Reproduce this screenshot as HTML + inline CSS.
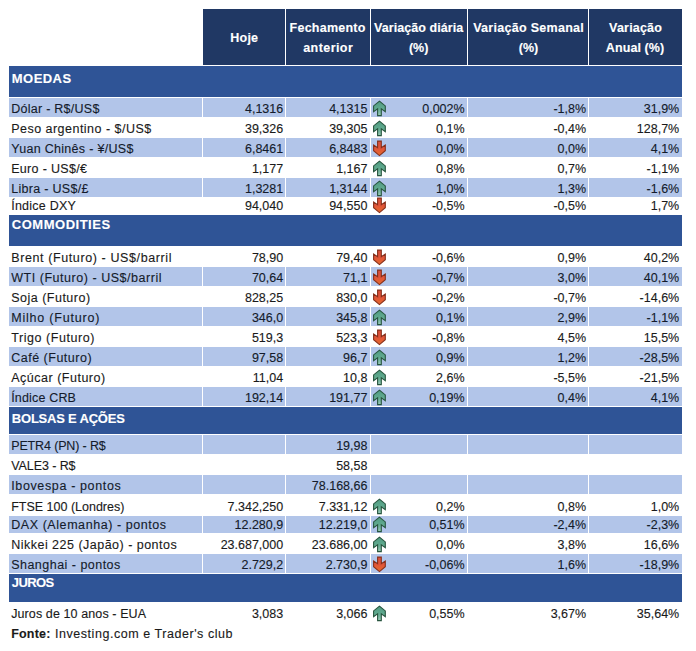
<!DOCTYPE html>
<html><head><meta charset="utf-8"><style>
html,body{margin:0;padding:0;background:#fff;}
body{width:696px;height:651px;position:relative;overflow:hidden;font-family:"Liberation Sans", sans-serif;}
.b{position:absolute;}
.t{position:absolute;white-space:pre;line-height:1;transform-origin:0 50%;-webkit-text-stroke:0.12px currentColor;}
.t.r{text-align:right;}
.t.c{width:200px;text-align:center;}
.ar{position:absolute;}
</style></head><body>
<svg width="0" height="0" style="position:absolute"><defs><linearGradient id="gu" x1="0" y1="0" x2="0" y2="1"><stop offset="0" stop-color="#4f9a80"/><stop offset="0.55" stop-color="#62ab90"/><stop offset="1" stop-color="#9ccdb9"/></linearGradient><linearGradient id="gd" x1="0" y1="0" x2="0" y2="1"><stop offset="0" stop-color="#e66a2a"/><stop offset="0.5" stop-color="#e0553a"/><stop offset="1" stop-color="#d9503c"/></linearGradient></defs></svg>
<div class="b" style="left:203px;top:9px;width:82px;height:56px;background:#203864"></div>
<div class="b" style="left:286px;top:9px;width:84px;height:56px;background:#203864"></div>
<div class="b" style="left:371px;top:9px;width:96px;height:56px;background:#203864"></div>
<div class="b" style="left:468px;top:9px;width:120px;height:56px;background:#203864"></div>
<div class="b" style="left:589px;top:9px;width:93px;height:56px;background:#203864"></div>
<div class="t c" style="left:144.20px;top:31.72px;font-size:12.5px;color:#fff;font-weight:bold"><span style="display:inline-block;letter-spacing:0.227px;margin-right:-0.227px;">Hoje</span></div>
<div class="t c" style="left:227.50px;top:21.92px;font-size:12.5px;color:#fff;font-weight:bold"><span style="display:inline-block;letter-spacing:0.236px;margin-right:-0.236px;">Fechamento</span></div>
<div class="t c" style="left:228.00px;top:41.52px;font-size:12.5px;color:#fff;font-weight:bold"><span style="display:inline-block;letter-spacing:0.432px;margin-right:-0.432px;">anterior</span></div>
<div class="t c" style="left:318.70px;top:21.92px;font-size:12.5px;color:#fff;font-weight:bold"><span style="display:inline-block;letter-spacing:0.069px;margin-right:-0.069px;">Variação diária</span></div>
<div class="t c" style="left:318.70px;top:41.52px;font-size:12.5px;color:#fff;font-weight:bold"><span style="display:inline-block;">(%)</span></div>
<div class="t c" style="left:428.50px;top:21.92px;font-size:12.5px;color:#fff;font-weight:bold"><span style="display:inline-block;letter-spacing:0.292px;margin-right:-0.292px;">Variação Semanal</span></div>
<div class="t c" style="left:428.50px;top:41.52px;font-size:12.5px;color:#fff;font-weight:bold"><span style="display:inline-block;">(%)</span></div>
<div class="t c" style="left:535.50px;top:21.92px;font-size:12.5px;color:#fff;font-weight:bold"><span style="display:inline-block;letter-spacing:0.195px;margin-right:-0.195px;">Variação</span></div>
<div class="t c" style="left:535.00px;top:41.52px;font-size:12.5px;color:#fff;font-weight:bold"><span style="display:inline-block;letter-spacing:0.095px;margin-right:-0.095px;">Anual (%)</span></div>
<div class="b" style="left:9px;top:66px;width:673px;height:31px;background:#2F5496"></div>
<div class="t" style="left:11.80px;top:71.70px;font-size:13px;color:#fff;font-weight:bold;letter-spacing:0.456px;">MOEDAS</div>
<div class="b" style="left:9px;top:215px;width:673px;height:31px;background:#2F5496"></div>
<div class="t" style="left:11.80px;top:217.80px;font-size:13px;color:#fff;font-weight:bold;letter-spacing:0.512px;">COMMODITIES</div>
<div class="b" style="left:9px;top:407px;width:673px;height:27px;background:#2F5496"></div>
<div class="t" style="left:11.80px;top:411.50px;font-size:13px;color:#fff;font-weight:bold;letter-spacing:-0.209px;">BOLSAS E AÇÕES</div>
<div class="b" style="left:9px;top:574px;width:673px;height:28px;background:#2F5496"></div>
<div class="t" style="left:11.80px;top:575.50px;font-size:13px;color:#fff;font-weight:bold;letter-spacing:-0.619px;">JUROS</div>
<div class="b" style="left:9px;top:98px;width:193px;height:19px;background:#B2C5E9"></div>
<div class="b" style="left:203px;top:98px;width:82px;height:19px;background:#B2C5E9"></div>
<div class="b" style="left:286px;top:98px;width:84px;height:19px;background:#B2C5E9"></div>
<div class="b" style="left:371px;top:98px;width:96px;height:19px;background:#B2C5E9"></div>
<div class="b" style="left:468px;top:98px;width:120px;height:19px;background:#B2C5E9"></div>
<div class="b" style="left:589px;top:98px;width:93px;height:19px;background:#B2C5E9"></div>
<div class="t" style="left:11.20px;top:103.12px;font-size:12.5px;color:#141b2b;letter-spacing:0.268px;">Dólar - R$/US$</div>
<div class="t r" style="right:412.80px;top:103.12px;font-size:12.5px;color:#141b2b">4,1316</div>
<div class="t r" style="right:328.60px;top:103.12px;font-size:12.5px;color:#141b2b">4,1315</div>
<div class="t r" style="right:231.40px;top:103.12px;font-size:12.5px;color:#141b2b">0,002%</div>
<div class="t r" style="right:109.90px;top:103.12px;font-size:12.5px;color:#141b2b">-1,8%</div>
<div class="t r" style="right:16.80px;top:103.12px;font-size:12.5px;color:#141b2b">31,9%</div>
<svg class="ar" style="left:370px;top:100.00px" width="19" height="17" viewBox="0 0 19 17"><path d="M9.45 1.1 L15.3 5.9 L15.3 11.7 L11.3 8.9 L11.3 15.6 L7.6 15.6 L7.6 8.9 L3.6 11.7 L3.6 5.9 Z" fill="url(#gu)" stroke="#28553f" stroke-width="1.1"/></svg>
<div class="t" style="left:11.20px;top:123.12px;font-size:12.5px;color:#1a1a1a;letter-spacing:0.479px;">Peso argentino - $/US$</div>
<div class="t r" style="right:412.80px;top:123.12px;font-size:12.5px;color:#1a1a1a">39,326</div>
<div class="t r" style="right:328.60px;top:123.12px;font-size:12.5px;color:#1a1a1a">39,305</div>
<div class="t r" style="right:231.40px;top:123.12px;font-size:12.5px;color:#1a1a1a">0,1%</div>
<div class="t r" style="right:109.90px;top:123.12px;font-size:12.5px;color:#1a1a1a">-0,4%</div>
<div class="t r" style="right:16.80px;top:123.12px;font-size:12.5px;color:#1a1a1a">128,7%</div>
<svg class="ar" style="left:370px;top:120.00px" width="19" height="17" viewBox="0 0 19 17"><path d="M9.45 1.1 L15.3 5.9 L15.3 11.7 L11.3 8.9 L11.3 15.6 L7.6 15.6 L7.6 8.9 L3.6 11.7 L3.6 5.9 Z" fill="url(#gu)" stroke="#28553f" stroke-width="1.1"/></svg>
<div class="b" style="left:9px;top:138px;width:193px;height:19px;background:#B2C5E9"></div>
<div class="b" style="left:203px;top:138px;width:82px;height:19px;background:#B2C5E9"></div>
<div class="b" style="left:286px;top:138px;width:84px;height:19px;background:#B2C5E9"></div>
<div class="b" style="left:371px;top:138px;width:96px;height:19px;background:#B2C5E9"></div>
<div class="b" style="left:468px;top:138px;width:120px;height:19px;background:#B2C5E9"></div>
<div class="b" style="left:589px;top:138px;width:93px;height:19px;background:#B2C5E9"></div>
<div class="t" style="left:11.20px;top:143.12px;font-size:12.5px;color:#141b2b;letter-spacing:0.303px;">Yuan Chinês - ¥/US$</div>
<div class="t r" style="right:412.80px;top:143.12px;font-size:12.5px;color:#141b2b">6,8461</div>
<div class="t r" style="right:328.60px;top:143.12px;font-size:12.5px;color:#141b2b">6,8483</div>
<div class="t r" style="right:231.40px;top:143.12px;font-size:12.5px;color:#141b2b">0,0%</div>
<div class="t r" style="right:109.90px;top:143.12px;font-size:12.5px;color:#141b2b">0,0%</div>
<div class="t r" style="right:16.80px;top:143.12px;font-size:12.5px;color:#141b2b">4,1%</div>
<svg class="ar" style="left:370px;top:140.00px" width="19" height="17" viewBox="0 0 19 17"><g transform="translate(0,16.7) scale(1,-1)"><path d="M9.45 1.1 L15.3 5.9 L15.3 11.7 L11.3 8.9 L11.3 15.6 L7.6 15.6 L7.6 8.9 L3.6 11.7 L3.6 5.9 Z" fill="url(#gd)" stroke="#86301c" stroke-width="1.1"/></g></svg>
<div class="t" style="left:11.20px;top:163.02px;font-size:12.5px;color:#1a1a1a;letter-spacing:0.320px;">Euro - US$/€</div>
<div class="t r" style="right:412.80px;top:163.02px;font-size:12.5px;color:#1a1a1a">1,177</div>
<div class="t r" style="right:328.60px;top:163.02px;font-size:12.5px;color:#1a1a1a">1,167</div>
<div class="t r" style="right:231.40px;top:163.02px;font-size:12.5px;color:#1a1a1a">0,8%</div>
<div class="t r" style="right:109.90px;top:163.02px;font-size:12.5px;color:#1a1a1a">0,7%</div>
<div class="t r" style="right:16.80px;top:163.02px;font-size:12.5px;color:#1a1a1a">-1,1%</div>
<svg class="ar" style="left:370px;top:159.90px" width="19" height="17" viewBox="0 0 19 17"><path d="M9.45 1.1 L15.3 5.9 L15.3 11.7 L11.3 8.9 L11.3 15.6 L7.6 15.6 L7.6 8.9 L3.6 11.7 L3.6 5.9 Z" fill="url(#gu)" stroke="#28553f" stroke-width="1.1"/></svg>
<div class="b" style="left:9px;top:178px;width:193px;height:19px;background:#B2C5E9"></div>
<div class="b" style="left:203px;top:178px;width:82px;height:19px;background:#B2C5E9"></div>
<div class="b" style="left:286px;top:178px;width:84px;height:19px;background:#B2C5E9"></div>
<div class="b" style="left:371px;top:178px;width:96px;height:19px;background:#B2C5E9"></div>
<div class="b" style="left:468px;top:178px;width:120px;height:19px;background:#B2C5E9"></div>
<div class="b" style="left:589px;top:178px;width:93px;height:19px;background:#B2C5E9"></div>
<div class="t" style="left:11.20px;top:182.92px;font-size:12.5px;color:#141b2b;letter-spacing:0.303px;">Libra - US$/£</div>
<div class="t r" style="right:412.80px;top:182.92px;font-size:12.5px;color:#141b2b">1,3281</div>
<div class="t r" style="right:328.60px;top:182.92px;font-size:12.5px;color:#141b2b">1,3144</div>
<div class="t r" style="right:231.40px;top:182.92px;font-size:12.5px;color:#141b2b">1,0%</div>
<div class="t r" style="right:109.90px;top:182.92px;font-size:12.5px;color:#141b2b">1,3%</div>
<div class="t r" style="right:16.80px;top:182.92px;font-size:12.5px;color:#141b2b">-1,6%</div>
<svg class="ar" style="left:370px;top:179.80px" width="19" height="17" viewBox="0 0 19 17"><path d="M9.45 1.1 L15.3 5.9 L15.3 11.7 L11.3 8.9 L11.3 15.6 L7.6 15.6 L7.6 8.9 L3.6 11.7 L3.6 5.9 Z" fill="url(#gu)" stroke="#28553f" stroke-width="1.1"/></svg>
<div class="t" style="left:11.20px;top:199.82px;font-size:12.5px;color:#1a1a1a;letter-spacing:0.237px;">Índice DXY</div>
<div class="t r" style="right:412.80px;top:199.82px;font-size:12.5px;color:#1a1a1a">94,040</div>
<div class="t r" style="right:328.60px;top:199.82px;font-size:12.5px;color:#1a1a1a">94,550</div>
<div class="t r" style="right:231.40px;top:199.82px;font-size:12.5px;color:#1a1a1a">-0,5%</div>
<div class="t r" style="right:109.90px;top:199.82px;font-size:12.5px;color:#1a1a1a">-0,5%</div>
<div class="t r" style="right:16.80px;top:199.82px;font-size:12.5px;color:#1a1a1a">1,7%</div>
<svg class="ar" style="left:370px;top:196.70px" width="19" height="17" viewBox="0 0 19 17"><g transform="translate(0,16.7) scale(1,-1)"><path d="M9.45 1.1 L15.3 5.9 L15.3 11.7 L11.3 8.9 L11.3 15.6 L7.6 15.6 L7.6 8.9 L3.6 11.7 L3.6 5.9 Z" fill="url(#gd)" stroke="#86301c" stroke-width="1.1"/></g></svg>
<div class="t" style="left:11.20px;top:252.02px;font-size:12.5px;color:#1a1a1a;letter-spacing:0.608px;">Brent (Futuro) - US$/barril</div>
<div class="t r" style="right:412.80px;top:252.02px;font-size:12.5px;color:#1a1a1a">78,90</div>
<div class="t r" style="right:328.60px;top:252.02px;font-size:12.5px;color:#1a1a1a">79,40</div>
<div class="t r" style="right:231.40px;top:252.02px;font-size:12.5px;color:#1a1a1a">-0,6%</div>
<div class="t r" style="right:109.90px;top:252.02px;font-size:12.5px;color:#1a1a1a">0,9%</div>
<div class="t r" style="right:16.80px;top:252.02px;font-size:12.5px;color:#1a1a1a">40,2%</div>
<svg class="ar" style="left:370px;top:248.90px" width="19" height="17" viewBox="0 0 19 17"><g transform="translate(0,16.7) scale(1,-1)"><path d="M9.45 1.1 L15.3 5.9 L15.3 11.7 L11.3 8.9 L11.3 15.6 L7.6 15.6 L7.6 8.9 L3.6 11.7 L3.6 5.9 Z" fill="url(#gd)" stroke="#86301c" stroke-width="1.1"/></g></svg>
<div class="b" style="left:9px;top:267px;width:193px;height:19px;background:#B2C5E9"></div>
<div class="b" style="left:203px;top:267px;width:82px;height:19px;background:#B2C5E9"></div>
<div class="b" style="left:286px;top:267px;width:84px;height:19px;background:#B2C5E9"></div>
<div class="b" style="left:371px;top:267px;width:96px;height:19px;background:#B2C5E9"></div>
<div class="b" style="left:468px;top:267px;width:120px;height:19px;background:#B2C5E9"></div>
<div class="b" style="left:589px;top:267px;width:93px;height:19px;background:#B2C5E9"></div>
<div class="t" style="left:11.20px;top:271.92px;font-size:12.5px;color:#141b2b;letter-spacing:0.535px;">WTI (Futuro) - US$/barril</div>
<div class="t r" style="right:412.80px;top:271.92px;font-size:12.5px;color:#141b2b">70,64</div>
<div class="t r" style="right:328.60px;top:271.92px;font-size:12.5px;color:#141b2b">71,1</div>
<div class="t r" style="right:231.40px;top:271.92px;font-size:12.5px;color:#141b2b">-0,7%</div>
<div class="t r" style="right:109.90px;top:271.92px;font-size:12.5px;color:#141b2b">3,0%</div>
<div class="t r" style="right:16.80px;top:271.92px;font-size:12.5px;color:#141b2b">40,1%</div>
<svg class="ar" style="left:370px;top:268.80px" width="19" height="17" viewBox="0 0 19 17"><g transform="translate(0,16.7) scale(1,-1)"><path d="M9.45 1.1 L15.3 5.9 L15.3 11.7 L11.3 8.9 L11.3 15.6 L7.6 15.6 L7.6 8.9 L3.6 11.7 L3.6 5.9 Z" fill="url(#gd)" stroke="#86301c" stroke-width="1.1"/></g></svg>
<div class="t" style="left:11.20px;top:291.92px;font-size:12.5px;color:#1a1a1a;letter-spacing:0.496px;">Soja (Futuro)</div>
<div class="t r" style="right:412.80px;top:291.92px;font-size:12.5px;color:#1a1a1a">828,25</div>
<div class="t r" style="right:328.60px;top:291.92px;font-size:12.5px;color:#1a1a1a">830,0</div>
<div class="t r" style="right:231.40px;top:291.92px;font-size:12.5px;color:#1a1a1a">-0,2%</div>
<div class="t r" style="right:109.90px;top:291.92px;font-size:12.5px;color:#1a1a1a">-0,7%</div>
<div class="t r" style="right:16.80px;top:291.92px;font-size:12.5px;color:#1a1a1a">-14,6%</div>
<svg class="ar" style="left:370px;top:288.80px" width="19" height="17" viewBox="0 0 19 17"><g transform="translate(0,16.7) scale(1,-1)"><path d="M9.45 1.1 L15.3 5.9 L15.3 11.7 L11.3 8.9 L11.3 15.6 L7.6 15.6 L7.6 8.9 L3.6 11.7 L3.6 5.9 Z" fill="url(#gd)" stroke="#86301c" stroke-width="1.1"/></g></svg>
<div class="b" style="left:9px;top:307px;width:193px;height:19px;background:#B2C5E9"></div>
<div class="b" style="left:203px;top:307px;width:82px;height:19px;background:#B2C5E9"></div>
<div class="b" style="left:286px;top:307px;width:84px;height:19px;background:#B2C5E9"></div>
<div class="b" style="left:371px;top:307px;width:96px;height:19px;background:#B2C5E9"></div>
<div class="b" style="left:468px;top:307px;width:120px;height:19px;background:#B2C5E9"></div>
<div class="b" style="left:589px;top:307px;width:93px;height:19px;background:#B2C5E9"></div>
<div class="t" style="left:11.20px;top:311.92px;font-size:12.5px;color:#141b2b;letter-spacing:0.807px;">Milho (Futuro)</div>
<div class="t r" style="right:412.80px;top:311.92px;font-size:12.5px;color:#141b2b">346,0</div>
<div class="t r" style="right:328.60px;top:311.92px;font-size:12.5px;color:#141b2b">345,8</div>
<div class="t r" style="right:231.40px;top:311.92px;font-size:12.5px;color:#141b2b">0,1%</div>
<div class="t r" style="right:109.90px;top:311.92px;font-size:12.5px;color:#141b2b">2,9%</div>
<div class="t r" style="right:16.80px;top:311.92px;font-size:12.5px;color:#141b2b">-1,1%</div>
<svg class="ar" style="left:370px;top:308.80px" width="19" height="17" viewBox="0 0 19 17"><path d="M9.45 1.1 L15.3 5.9 L15.3 11.7 L11.3 8.9 L11.3 15.6 L7.6 15.6 L7.6 8.9 L3.6 11.7 L3.6 5.9 Z" fill="url(#gu)" stroke="#28553f" stroke-width="1.1"/></svg>
<div class="t" style="left:11.20px;top:332.02px;font-size:12.5px;color:#1a1a1a;letter-spacing:0.568px;">Trigo (Futuro)</div>
<div class="t r" style="right:412.80px;top:332.02px;font-size:12.5px;color:#1a1a1a">519,3</div>
<div class="t r" style="right:328.60px;top:332.02px;font-size:12.5px;color:#1a1a1a">523,3</div>
<div class="t r" style="right:231.40px;top:332.02px;font-size:12.5px;color:#1a1a1a">-0,8%</div>
<div class="t r" style="right:109.90px;top:332.02px;font-size:12.5px;color:#1a1a1a">4,5%</div>
<div class="t r" style="right:16.80px;top:332.02px;font-size:12.5px;color:#1a1a1a">15,5%</div>
<svg class="ar" style="left:370px;top:328.90px" width="19" height="17" viewBox="0 0 19 17"><g transform="translate(0,16.7) scale(1,-1)"><path d="M9.45 1.1 L15.3 5.9 L15.3 11.7 L11.3 8.9 L11.3 15.6 L7.6 15.6 L7.6 8.9 L3.6 11.7 L3.6 5.9 Z" fill="url(#gd)" stroke="#86301c" stroke-width="1.1"/></g></svg>
<div class="b" style="left:9px;top:347px;width:193px;height:19px;background:#B2C5E9"></div>
<div class="b" style="left:203px;top:347px;width:82px;height:19px;background:#B2C5E9"></div>
<div class="b" style="left:286px;top:347px;width:84px;height:19px;background:#B2C5E9"></div>
<div class="b" style="left:371px;top:347px;width:96px;height:19px;background:#B2C5E9"></div>
<div class="b" style="left:468px;top:347px;width:120px;height:19px;background:#B2C5E9"></div>
<div class="b" style="left:589px;top:347px;width:93px;height:19px;background:#B2C5E9"></div>
<div class="t" style="left:11.20px;top:351.92px;font-size:12.5px;color:#141b2b;letter-spacing:0.504px;">Café (Futuro)</div>
<div class="t r" style="right:412.80px;top:351.92px;font-size:12.5px;color:#141b2b">97,58</div>
<div class="t r" style="right:328.60px;top:351.92px;font-size:12.5px;color:#141b2b">96,7</div>
<div class="t r" style="right:231.40px;top:351.92px;font-size:12.5px;color:#141b2b">0,9%</div>
<div class="t r" style="right:109.90px;top:351.92px;font-size:12.5px;color:#141b2b">1,2%</div>
<div class="t r" style="right:16.80px;top:351.92px;font-size:12.5px;color:#141b2b">-28,5%</div>
<svg class="ar" style="left:370px;top:348.80px" width="19" height="17" viewBox="0 0 19 17"><path d="M9.45 1.1 L15.3 5.9 L15.3 11.7 L11.3 8.9 L11.3 15.6 L7.6 15.6 L7.6 8.9 L3.6 11.7 L3.6 5.9 Z" fill="url(#gu)" stroke="#28553f" stroke-width="1.1"/></svg>
<div class="t" style="left:11.20px;top:371.92px;font-size:12.5px;color:#1a1a1a;letter-spacing:0.510px;">Açúcar (Futuro)</div>
<div class="t r" style="right:412.80px;top:371.92px;font-size:12.5px;color:#1a1a1a">11,04</div>
<div class="t r" style="right:328.60px;top:371.92px;font-size:12.5px;color:#1a1a1a">10,8</div>
<div class="t r" style="right:231.40px;top:371.92px;font-size:12.5px;color:#1a1a1a">2,6%</div>
<div class="t r" style="right:109.90px;top:371.92px;font-size:12.5px;color:#1a1a1a">-5,5%</div>
<div class="t r" style="right:16.80px;top:371.92px;font-size:12.5px;color:#1a1a1a">-21,5%</div>
<svg class="ar" style="left:370px;top:368.80px" width="19" height="17" viewBox="0 0 19 17"><path d="M9.45 1.1 L15.3 5.9 L15.3 11.7 L11.3 8.9 L11.3 15.6 L7.6 15.6 L7.6 8.9 L3.6 11.7 L3.6 5.9 Z" fill="url(#gu)" stroke="#28553f" stroke-width="1.1"/></svg>
<div class="b" style="left:9px;top:387px;width:193px;height:19px;background:#B2C5E9"></div>
<div class="b" style="left:203px;top:387px;width:82px;height:19px;background:#B2C5E9"></div>
<div class="b" style="left:286px;top:387px;width:84px;height:19px;background:#B2C5E9"></div>
<div class="b" style="left:371px;top:387px;width:96px;height:19px;background:#B2C5E9"></div>
<div class="b" style="left:468px;top:387px;width:120px;height:19px;background:#B2C5E9"></div>
<div class="b" style="left:589px;top:387px;width:93px;height:19px;background:#B2C5E9"></div>
<div class="t" style="left:11.20px;top:391.92px;font-size:12.5px;color:#141b2b;letter-spacing:0.167px;">Índice CRB</div>
<div class="t r" style="right:412.80px;top:391.92px;font-size:12.5px;color:#141b2b">192,14</div>
<div class="t r" style="right:328.60px;top:391.92px;font-size:12.5px;color:#141b2b">191,77</div>
<div class="t r" style="right:231.40px;top:391.92px;font-size:12.5px;color:#141b2b">0,19%</div>
<div class="t r" style="right:109.90px;top:391.92px;font-size:12.5px;color:#141b2b">0,4%</div>
<div class="t r" style="right:16.80px;top:391.92px;font-size:12.5px;color:#141b2b">4,1%</div>
<svg class="ar" style="left:370px;top:388.80px" width="19" height="17" viewBox="0 0 19 17"><path d="M9.45 1.1 L15.3 5.9 L15.3 11.7 L11.3 8.9 L11.3 15.6 L7.6 15.6 L7.6 8.9 L3.6 11.7 L3.6 5.9 Z" fill="url(#gu)" stroke="#28553f" stroke-width="1.1"/></svg>
<div class="b" style="left:9px;top:435px;width:193px;height:19px;background:#B2C5E9"></div>
<div class="b" style="left:203px;top:435px;width:82px;height:19px;background:#B2C5E9"></div>
<div class="b" style="left:286px;top:435px;width:84px;height:19px;background:#B2C5E9"></div>
<div class="b" style="left:371px;top:435px;width:96px;height:19px;background:#B2C5E9"></div>
<div class="b" style="left:468px;top:435px;width:120px;height:19px;background:#B2C5E9"></div>
<div class="b" style="left:589px;top:435px;width:93px;height:19px;background:#B2C5E9"></div>
<div class="t" style="left:11.20px;top:440.12px;font-size:12.5px;color:#141b2b;letter-spacing:-0.136px;">PETR4 (PN) - R$</div>
<div class="t r" style="right:328.60px;top:440.12px;font-size:12.5px;color:#141b2b">19,98</div>
<div class="t" style="left:11.20px;top:459.52px;font-size:12.5px;color:#1a1a1a;letter-spacing:-0.078px;">VALE3 - R$</div>
<div class="t r" style="right:328.60px;top:459.52px;font-size:12.5px;color:#1a1a1a">58,58</div>
<div class="b" style="left:9px;top:475px;width:193px;height:19px;background:#B2C5E9"></div>
<div class="b" style="left:203px;top:475px;width:82px;height:19px;background:#B2C5E9"></div>
<div class="b" style="left:286px;top:475px;width:84px;height:19px;background:#B2C5E9"></div>
<div class="b" style="left:371px;top:475px;width:96px;height:19px;background:#B2C5E9"></div>
<div class="b" style="left:468px;top:475px;width:120px;height:19px;background:#B2C5E9"></div>
<div class="b" style="left:589px;top:475px;width:93px;height:19px;background:#B2C5E9"></div>
<div class="t" style="left:11.20px;top:479.72px;font-size:12.5px;color:#141b2b;letter-spacing:0.637px;">Ibovespa - pontos</div>
<div class="t r" style="right:328.60px;top:479.72px;font-size:12.5px;color:#141b2b">78.168,66</div>
<div class="t" style="left:11.20px;top:501.02px;font-size:12.5px;color:#1a1a1a;letter-spacing:-0.003px;">FTSE 100 (Londres)</div>
<div class="t r" style="right:412.80px;top:501.02px;font-size:12.5px;color:#1a1a1a">7.342,250</div>
<div class="t r" style="right:328.60px;top:501.02px;font-size:12.5px;color:#1a1a1a">7.331,12</div>
<div class="t r" style="right:231.40px;top:501.02px;font-size:12.5px;color:#1a1a1a">0,2%</div>
<div class="t r" style="right:109.90px;top:501.02px;font-size:12.5px;color:#1a1a1a">0,8%</div>
<div class="t r" style="right:16.80px;top:501.02px;font-size:12.5px;color:#1a1a1a">1,0%</div>
<svg class="ar" style="left:370px;top:497.90px" width="19" height="17" viewBox="0 0 19 17"><path d="M9.45 1.1 L15.3 5.9 L15.3 11.7 L11.3 8.9 L11.3 15.6 L7.6 15.6 L7.6 8.9 L3.6 11.7 L3.6 5.9 Z" fill="url(#gu)" stroke="#28553f" stroke-width="1.1"/></svg>
<div class="b" style="left:9px;top:516px;width:193px;height:17px;background:#B2C5E9"></div>
<div class="b" style="left:203px;top:516px;width:82px;height:17px;background:#B2C5E9"></div>
<div class="b" style="left:286px;top:516px;width:84px;height:17px;background:#B2C5E9"></div>
<div class="b" style="left:371px;top:516px;width:96px;height:17px;background:#B2C5E9"></div>
<div class="b" style="left:468px;top:516px;width:120px;height:17px;background:#B2C5E9"></div>
<div class="b" style="left:589px;top:516px;width:93px;height:17px;background:#B2C5E9"></div>
<div class="t" style="left:11.20px;top:519.12px;font-size:12.5px;color:#141b2b;letter-spacing:0.568px;">DAX (Alemanha) - pontos</div>
<div class="t r" style="right:412.80px;top:519.12px;font-size:12.5px;color:#141b2b">12.280,9</div>
<div class="t r" style="right:328.60px;top:519.12px;font-size:12.5px;color:#141b2b">12.219,0</div>
<div class="t r" style="right:231.40px;top:519.12px;font-size:12.5px;color:#141b2b">0,51%</div>
<div class="t r" style="right:109.90px;top:519.12px;font-size:12.5px;color:#141b2b">-2,4%</div>
<div class="t r" style="right:16.80px;top:519.12px;font-size:12.5px;color:#141b2b">-2,3%</div>
<svg class="ar" style="left:370px;top:516.00px" width="19" height="17" viewBox="0 0 19 17"><path d="M9.45 1.1 L15.3 5.9 L15.3 11.7 L11.3 8.9 L11.3 15.6 L7.6 15.6 L7.6 8.9 L3.6 11.7 L3.6 5.9 Z" fill="url(#gu)" stroke="#28553f" stroke-width="1.1"/></svg>
<div class="t" style="left:11.20px;top:539.12px;font-size:12.5px;color:#1a1a1a;letter-spacing:0.487px;">Nikkei 225 (Japão) - pontos</div>
<div class="t r" style="right:412.80px;top:539.12px;font-size:12.5px;color:#1a1a1a">23.687,000</div>
<div class="t r" style="right:328.60px;top:539.12px;font-size:12.5px;color:#1a1a1a">23.686,00</div>
<div class="t r" style="right:231.40px;top:539.12px;font-size:12.5px;color:#1a1a1a">0,0%</div>
<div class="t r" style="right:109.90px;top:539.12px;font-size:12.5px;color:#1a1a1a">3,8%</div>
<div class="t r" style="right:16.80px;top:539.12px;font-size:12.5px;color:#1a1a1a">16,6%</div>
<svg class="ar" style="left:370px;top:536.00px" width="19" height="17" viewBox="0 0 19 17"><path d="M9.45 1.1 L15.3 5.9 L15.3 11.7 L11.3 8.9 L11.3 15.6 L7.6 15.6 L7.6 8.9 L3.6 11.7 L3.6 5.9 Z" fill="url(#gu)" stroke="#28553f" stroke-width="1.1"/></svg>
<div class="b" style="left:9px;top:554px;width:193px;height:19px;background:#B2C5E9"></div>
<div class="b" style="left:203px;top:554px;width:82px;height:19px;background:#B2C5E9"></div>
<div class="b" style="left:286px;top:554px;width:84px;height:19px;background:#B2C5E9"></div>
<div class="b" style="left:371px;top:554px;width:96px;height:19px;background:#B2C5E9"></div>
<div class="b" style="left:468px;top:554px;width:120px;height:19px;background:#B2C5E9"></div>
<div class="b" style="left:589px;top:554px;width:93px;height:19px;background:#B2C5E9"></div>
<div class="t" style="left:11.20px;top:559.22px;font-size:12.5px;color:#141b2b;letter-spacing:0.478px;">Shanghai - pontos</div>
<div class="t r" style="right:412.80px;top:559.22px;font-size:12.5px;color:#141b2b">2.729,2</div>
<div class="t r" style="right:328.60px;top:559.22px;font-size:12.5px;color:#141b2b">2.730,9</div>
<div class="t r" style="right:231.40px;top:559.22px;font-size:12.5px;color:#141b2b">-0,06%</div>
<div class="t r" style="right:109.90px;top:559.22px;font-size:12.5px;color:#141b2b">1,6%</div>
<div class="t r" style="right:16.80px;top:559.22px;font-size:12.5px;color:#141b2b">-18,9%</div>
<svg class="ar" style="left:370px;top:556.10px" width="19" height="17" viewBox="0 0 19 17"><g transform="translate(0,16.7) scale(1,-1)"><path d="M9.45 1.1 L15.3 5.9 L15.3 11.7 L11.3 8.9 L11.3 15.6 L7.6 15.6 L7.6 8.9 L3.6 11.7 L3.6 5.9 Z" fill="url(#gd)" stroke="#86301c" stroke-width="1.1"/></g></svg>
<div class="t" style="left:11.20px;top:608.22px;font-size:12.5px;color:#1a1a1a;letter-spacing:0.104px;">Juros de 10 anos - EUA</div>
<div class="t r" style="right:412.80px;top:608.22px;font-size:12.5px;color:#1a1a1a">3,083</div>
<div class="t r" style="right:328.60px;top:608.22px;font-size:12.5px;color:#1a1a1a">3,066</div>
<div class="t r" style="right:231.40px;top:608.22px;font-size:12.5px;color:#1a1a1a">0,55%</div>
<div class="t r" style="right:109.90px;top:608.22px;font-size:12.5px;color:#1a1a1a">3,67%</div>
<div class="t r" style="right:16.80px;top:608.22px;font-size:12.5px;color:#1a1a1a">35,64%</div>
<svg class="ar" style="left:370px;top:605.10px" width="19" height="17" viewBox="0 0 19 17"><path d="M9.45 1.1 L15.3 5.9 L15.3 11.7 L11.3 8.9 L11.3 15.6 L7.6 15.6 L7.6 8.9 L3.6 11.7 L3.6 5.9 Z" fill="url(#gu)" stroke="#28553f" stroke-width="1.1"/></svg>
<div class="t" style="left:11.2px;top:628.12px;font-size:12.5px;color:#1a1a1a;font-weight:bold;letter-spacing:0.2px">Fonte:</div>
<div class="t" style="left:50.92px;top:628.12px;font-size:12.5px;color:#1a1a1a;letter-spacing:0.55px"> Investing.com e Trader's club</div>
</body></html>
